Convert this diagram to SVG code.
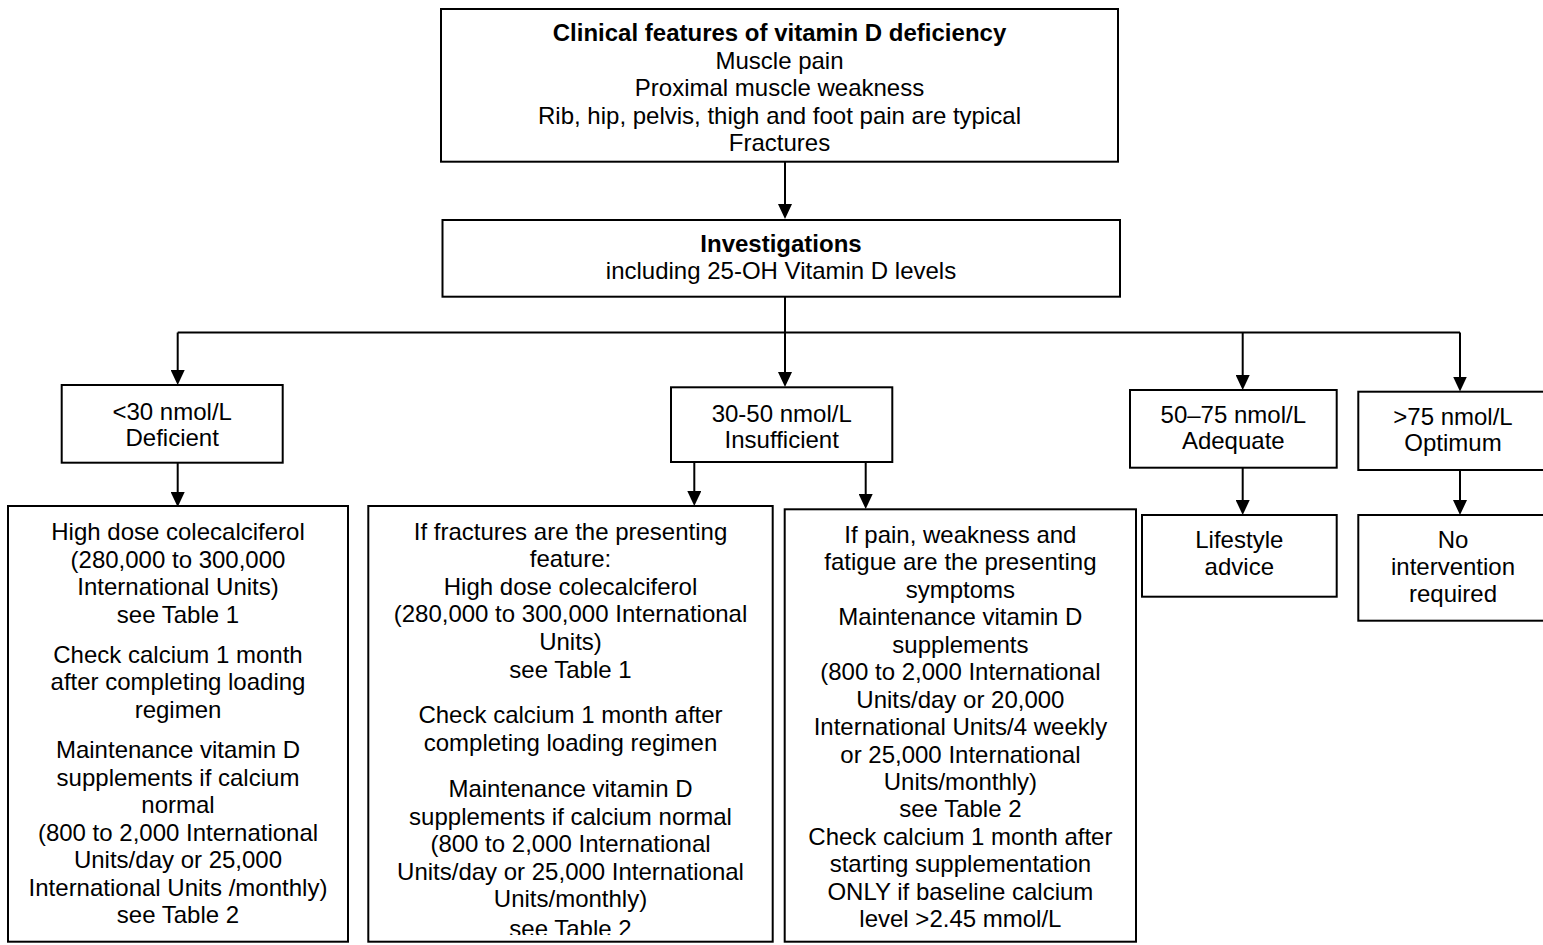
<svg xmlns="http://www.w3.org/2000/svg" width="1543" height="945" viewBox="0 0 1543 945">
<style>
  .box { fill: #ffffff; stroke: #000000; stroke-width: 2; }
  .t { font-family: "Liberation Sans", Arial, sans-serif; font-size: 24px; fill: #000000; text-anchor: middle; }
  .b { font-weight: bold; }
  .c { fill: none; stroke: #000000; stroke-width: 2; }
  .a { fill: none; stroke: #000000; stroke-width: 2; marker-end: url(#arrow); }
</style>
<defs>
  <marker id="arrow" markerUnits="userSpaceOnUse" viewBox="0 -7 15 14" refX="1" refY="0" markerWidth="15" markerHeight="14" orient="auto">
    <path d="M0,-7 L15,0 L0,7 z" fill="#000000"/>
  </marker>
  <clipPath id="clip2"><rect x="360" y="500" width="420" height="435"/></clipPath>
</defs>
<rect x="0" y="0" width="1543" height="945" fill="#ffffff"/>

<g id="connectors">
  <path class="a" d="M785,162 V205"/>
  <path class="c" d="M785,297 V332.5"/>
  <path class="c" d="M177.7,332.5 H1460"/>
  <path class="a" d="M177.7,332.5 V371"/>
  <path class="a" d="M785,332.5 V373"/>
  <path class="a" d="M1242.7,332.5 V376"/>
  <path class="a" d="M1460,332.5 V377.5"/>
  <path class="a" d="M177.7,463 V493"/>
  <path class="a" d="M694.3,462 V492"/>
  <path class="a" d="M865.7,462 V495"/>
  <path class="a" d="M1242.7,468 V501"/>
  <path class="a" d="M1460,470 V501"/>
</g>

<g id="clinical">
  <rect class="box" x="441" y="9" width="677" height="152.7"/>
  <text class="t b" x="779.5" y="41">Clinical features of vitamin D deficiency</text>
  <text class="t" x="779.5" y="68.5">Muscle pain</text>
  <text class="t" x="779.5" y="96">Proximal muscle weakness</text>
  <text class="t" x="779.5" y="123.5">Rib, hip, pelvis, thigh and foot pain are typical</text>
  <text class="t" x="779.5" y="151">Fractures</text>
</g>

<g id="investigations">
  <rect class="box" x="442.5" y="220" width="677.5" height="76.7"/>
  <text class="t b" x="781" y="251.7">Investigations</text>
  <text class="t" x="781" y="278.5">including 25-OH Vitamin D levels</text>
</g>

<g id="deficient">
  <rect class="box" x="61.7" y="385" width="221" height="77.7"/>
  <text class="t" x="172.2" y="419.7">&lt;30 nmol/L</text>
  <text class="t" x="172.2" y="446">Deficient</text>
</g>

<g id="insufficient">
  <rect class="box" x="671" y="387.3" width="221.3" height="74.7"/>
  <text class="t" x="781.7" y="421.7">30-50 nmol/L</text>
  <text class="t" x="781.7" y="447.7">Insufficient</text>
</g>

<g id="adequate">
  <rect class="box" x="1130" y="390" width="206.7" height="77.7"/>
  <text class="t" x="1233.3" y="423.3">50–75 nmol/L</text>
  <text class="t" x="1233.3" y="449">Adequate</text>
</g>

<g id="optimum">
  <rect class="box" x="1358.3" y="391.7" width="190" height="78.3"/>
  <text class="t" x="1453" y="425">&gt;75 nmol/L</text>
  <text class="t" x="1453" y="451">Optimum</text>
</g>

<g id="deficient-treatment">
  <rect class="box" x="8" y="506" width="340" height="435.7"/>
  <text class="t" x="178" y="540">High dose colecalciferol</text>
  <text class="t" x="178" y="567.5">(280,000 to 300,000</text>
  <text class="t" x="178" y="595">International Units)</text>
  <text class="t" x="178" y="622.5">see Table 1</text>
  <text class="t" x="178" y="662.5">Check calcium 1 month</text>
  <text class="t" x="178" y="690">after completing loading</text>
  <text class="t" x="178" y="717.5">regimen</text>
  <text class="t" x="178" y="758">Maintenance vitamin D</text>
  <text class="t" x="178" y="785.5">supplements if calcium</text>
  <text class="t" x="178" y="813">normal</text>
  <text class="t" x="178" y="840.5">(800 to 2,000 International</text>
  <text class="t" x="178" y="868">Units/day or 25,000</text>
  <text class="t" x="178" y="895.5">International Units /monthly)</text>
  <text class="t" x="178" y="922.5">see Table 2</text>
</g>

<g id="fractures-treatment">
  <rect class="box" x="368.3" y="506" width="404.4" height="435.7"/>
  <g clip-path="url(#clip2)">
    <text class="t" x="570.5" y="539.5">If fractures are the presenting</text>
    <text class="t" x="570.5" y="567">feature:</text>
    <text class="t" x="570.5" y="594.5">High dose colecalciferol</text>
    <text class="t" x="570.5" y="622.3">(280,000 to 300,000 International</text>
    <text class="t" x="570.5" y="650">Units)</text>
    <text class="t" x="570.5" y="677.6">see Table 1</text>
    <text class="t" x="570.5" y="723.3">Check calcium 1 month after</text>
    <text class="t" x="570.5" y="750.8">completing loading regimen</text>
    <text class="t" x="570.5" y="797.3">Maintenance vitamin D</text>
    <text class="t" x="570.5" y="824.8">supplements if calcium normal</text>
    <text class="t" x="570.5" y="852.3">(800 to 2,000 International</text>
    <text class="t" x="570.5" y="879.8">Units/day or 25,000 International</text>
    <text class="t" x="570.5" y="907.3">Units/monthly)</text>
    <text class="t" x="570.5" y="936.5">see Table 2</text>
  </g>
</g>

<g id="pain-treatment">
  <rect class="box" x="784.7" y="509.3" width="351.3" height="432.4"/>
  <text class="t" x="960.4" y="542.7">If pain, weakness and</text>
  <text class="t" x="960.4" y="570.2">fatigue are the presenting</text>
  <text class="t" x="960.4" y="597.6">symptoms</text>
  <text class="t" x="960.4" y="625.1">Maintenance vitamin D</text>
  <text class="t" x="960.4" y="652.6">supplements</text>
  <text class="t" x="960.4" y="680">(800 to 2,000 International</text>
  <text class="t" x="960.4" y="707.5">Units/day or 20,000</text>
  <text class="t" x="960.4" y="735">International Units/4 weekly</text>
  <text class="t" x="960.4" y="762.5">or 25,000 International</text>
  <text class="t" x="960.4" y="789.9">Units/monthly)</text>
  <text class="t" x="960.4" y="817.4">see Table 2</text>
  <text class="t" x="960.4" y="844.9">Check calcium 1 month after</text>
  <text class="t" x="960.4" y="872.4">starting supplementation</text>
  <text class="t" x="960.4" y="899.8">ONLY if baseline calcium</text>
  <text class="t" x="960.4" y="927.3">level &gt;2.45 mmol/L</text>
</g>

<g id="lifestyle">
  <rect class="box" x="1142" y="515" width="194.7" height="81.7"/>
  <text class="t" x="1239.3" y="548.3">Lifestyle</text>
  <text class="t" x="1239.3" y="575">advice</text>
</g>

<g id="no-intervention">
  <rect class="box" x="1358.3" y="515" width="190" height="105.7"/>
  <text class="t" x="1453" y="548">No</text>
  <text class="t" x="1453" y="575">intervention</text>
  <text class="t" x="1453" y="602">required</text>
</g>
</svg>
